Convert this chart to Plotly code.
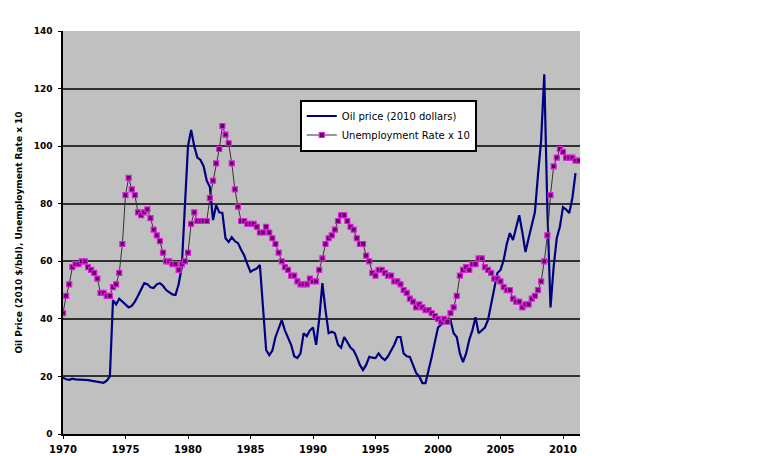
import numpy as np
import plotly.graph_objects as go

# quarterly values, first quarter of 1970 onwards
oil_price = [
    19.5, 19.0, 18.8, 19.2,   # 1970
    19.0, 19.0, 18.8, 18.8,   # 1971
    18.7, 18.5, 18.5, 18.3,   # 1972
    18.0, 17.8, 18.5, 20.0,   # 1973
    46.5, 45.0, 47.0, 46.0,   # 1974
    45.0, 44.0, 44.5, 46.0,   # 1975
    48.0, 50.0, 52.4, 52.0,   # 1976
    51.0, 50.7, 52.0, 52.4,   # 1977
    51.5, 50.0, 49.3, 48.5,   # 1978
    48.3, 52.0, 58.0, 80.0,   # 1979
    100.0, 105.6, 100.0, 96.0,  # 1980
    95.2, 93.0, 88.0, 85.8,   # 1981
    74.3, 79.5, 77.0, 76.8,   # 1982
    68.0, 66.7, 68.4, 67.0,   # 1983
    66.3, 64.0, 62.0, 59.0,   # 1984
    56.3, 57.0, 57.5, 58.7,   # 1985
    45.0, 29.2, 27.4, 29.0,   # 1986
    33.7, 37.0, 39.6, 36.0,   # 1987
    33.7, 31.0, 27.0, 26.4,   # 1988
    28.0, 35.0, 34.0, 36.0,   # 1989
    37.0, 31.0, 40.0, 52.4,   # 1990
    43.0, 35.0, 35.5, 35.0,   # 1991
    31.0, 30.0, 33.7, 32.0,   # 1992
    30.0, 29.0, 26.8, 24.0,   # 1993
    22.2, 24.0, 26.8, 26.5,   # 1994
    26.4, 28.0, 26.5, 25.7,   # 1995
    27.0, 29.0, 31.0, 33.7,   # 1996
    33.7, 28.0, 27.0, 26.8,   # 1997
    24.0, 21.2, 20.0, 17.7,   # 1998
    17.7, 22.0, 26.8, 32.0,   # 1999
    37.0, 38.0, 38.5, 39.6,   # 2000
    39.6, 35.0, 33.7, 28.0,   # 2001
    25.0, 28.0, 32.7, 36.0,   # 2002
    40.6, 35.0, 36.0, 37.0,   # 2003
    39.6, 45.0, 50.0, 55.9,   # 2004
    57.0, 60.4, 66.0, 69.8,   # 2005
    67.4, 72.0, 76.0, 70.0,   # 2006
    63.2, 68.0, 72.0, 77.0,   # 2007
    90.0, 102.0, 125.0, 78.0,  # 2008
    44.0, 58.0, 68.0, 72.0,   # 2009
    78.8, 78.0, 76.8, 82.0,   # 2010
    90.6,                     # 2011
]

unemployment_x10 = [
    42, 48, 52, 58,      # 1970
    59, 59, 60, 60,      # 1971
    58, 57, 56, 54,      # 1972
    49, 49, 48, 48,      # 1973
    51, 52, 56, 66,      # 1974
    83, 89, 85, 83,      # 1975
    77, 76, 77, 78,      # 1976
    75, 71, 69, 67,      # 1977
    63, 60, 60, 59,      # 1978
    59, 57, 59, 60,      # 1979
    63, 73, 77, 74,      # 1980
    74, 74, 74, 82,      # 1981
    88, 94, 99, 107,     # 1982
    104, 101, 94, 85,    # 1983
    79, 74, 74, 73,      # 1984
    73, 73, 72, 70,      # 1985
    70, 72, 70, 68,      # 1986
    66, 63, 60, 58,      # 1987
    57, 55, 55, 53,      # 1988
    52, 52, 52, 54,      # 1989
    53, 53, 57, 61,      # 1990
    66, 68, 69, 71,      # 1991
    74, 76, 76, 74,      # 1992
    72, 71, 68, 66,      # 1993
    66, 62, 60, 56,      # 1994
    55, 57, 57, 56,      # 1995
    55, 55, 53, 53,      # 1996
    52, 50, 49, 47,      # 1997
    46, 44, 45, 44,      # 1998
    43, 43, 42, 41,      # 1999
    40, 39, 40, 39,      # 2000
    42, 44, 48, 55,      # 2001
    57, 58, 57, 59,      # 2002
    59, 61, 61, 58,      # 2003
    57, 56, 54, 54,      # 2004
    53, 51, 50, 50,      # 2005
    47, 46, 46, 44,      # 2006
    45, 45, 47, 48,      # 2007
    50, 53, 60, 69,      # 2008
    83, 93, 96, 99,      # 2009
    98, 96, 96, 96,      # 2010
    95, 95,              # 2011
]

year_ticks = [1970, 1975, 1980, 1985, 1990, 1995, 2000, 2005, 2010]

oil_x = 1970 + np.arange(len(oil_price)) / 4
unemp_x = 1970 + np.arange(len(unemployment_x10)) / 4

FONT = "DejaVu Sans, Verdana, sans-serif"

fig = go.Figure()
fig.add_trace(go.Scatter(
    x=oil_x, y=oil_price, mode="lines",
    name="Oil price (2010 dollars)",
    line=dict(color="#000080", width=2.2),
))
fig.add_trace(go.Scatter(
    x=unemp_x, y=unemployment_x10, mode="lines+markers",
    name="Unemployment Rate x 10",
    line=dict(color="#333333", width=1),
    marker=dict(symbol="square", size=5, color="#660066",
                line=dict(color="#E020E0", width=1.2)),
))

# the page body adds an 8px offset, margins compensate for it
fig.update_layout(
    width=780, height=456,
    margin=dict(l=55, r=208, t=23, b=30),
    paper_bgcolor="white",
    plot_bgcolor="#C0C0C0",
    font=dict(family=FONT, size=8, color="black", weight="bold"),
    legend=dict(
        x=0.458, y=0.83, xanchor="left", yanchor="top",
        bgcolor="white", bordercolor="black", borderwidth=2,
        font=dict(size=10, weight="normal"),
        itemwidth=30, tracegroupgap=0,
    ),
    showlegend=True,
)
fig.update_xaxes(
    range=[1970, 2011.36],
    tickvals=year_ticks, ticktext=[str(y) for y in year_ticks],
    showgrid=False, showline=True, linecolor="black", linewidth=1.5,
    ticks="outside", ticklen=3, tickcolor="black",
    tickfont=dict(size=10, weight="bold"), ticklabelstandoff=2,
    zeroline=False, automargin=False,
)
fig.update_yaxes(
    range=[0, 140], dtick=20,
    showgrid=True, gridcolor="#303030", gridwidth=1.5,
    showline=True, linecolor="black", linewidth=1.5,
    ticks="outside", ticklen=3, tickcolor="black",
    tickfont=dict(size=9, weight="bold"), ticklabelstandoff=4,
    zeroline=False, automargin=False,
    title=dict(text="Oil Price (2010 $/bbl), Unemployment Rate x 10",
               font=dict(size=9, weight="bold"), standoff=10),
)

fig.write_html("out.html")
